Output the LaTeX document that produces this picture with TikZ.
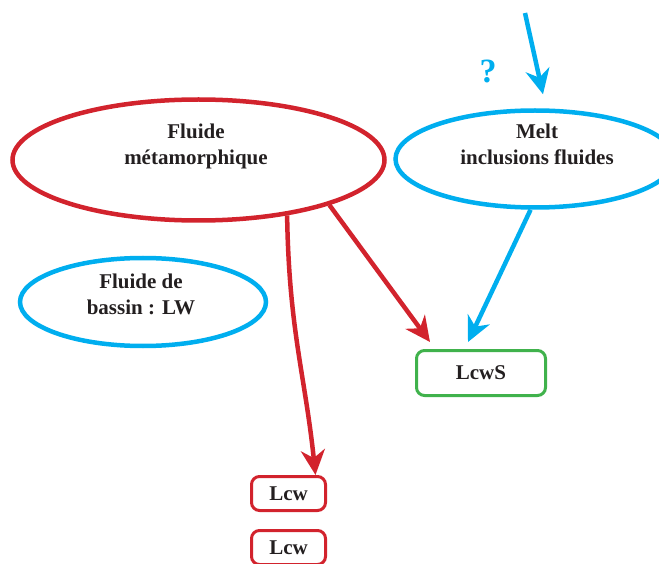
\documentclass[tikz,border=0pt]{standalone}
\usepackage{fontspec}
\setmainfont{Liberation Serif}
\usetikzlibrary{arrows.meta,shapes.geometric}
\definecolor{cred}{RGB}{210,35,45}
\definecolor{cblue}{RGB}{0,174,239}
\definecolor{cgreen}{RGB}{64,178,76}
\definecolor{ctext}{RGB}{35,31,32}
\begin{document}
\begin{tikzpicture}[x=1pt,y=-1pt,
  ell/.style={ellipse,draw,line width=4.5pt,inner sep=0pt},
  box/.style={rectangle,draw,rounded corners=8pt,line width=3pt,inner sep=0pt},
  txt/.style={font=\fontsize{21}{26}\selectfont\bfseries,text=ctext,align=center,inner sep=0pt},
  arr/.style={line width=4.5pt,-{Stealth[length=25pt,width=24pt,inset=8pt]}}]
\useasboundingbox (0,0) rectangle (659,564);
% ellipses
\node[ell,draw=cred,minimum width=372pt,minimum height=121pt] (meta) at (198.5,160) {};
\node[ell,draw=cblue,minimum width=279pt,minimum height=97pt] (melt) at (535,159) {};
\node[ell,draw=cblue,minimum width=246pt,minimum height=88pt] (bassin) at (143,302) {};
\node[txt,anchor=base] (metatxt) at (196,165) {Fluide\\métamorphique};
\node[txt,anchor=base] (melttxt) at (537,165) {Melt\\inclusions fluides};
\node[txt,anchor=base] (bassintxt) at (141,315) {Fluide de\\bassin : LW};
% boxes
\node[box,draw=cgreen,minimum width=129pt,minimum height=45pt,txt] (lcws) at (481,373) {LcwS};
\node[box,draw=cred,minimum width=74pt,minimum height=34pt,txt] (lcw1) at (288.5,493.5) {Lcw};
\node[box,draw=cred,minimum width=74pt,minimum height=34pt,txt] (lcw2) at (288.5,547.5) {Lcw};
% question mark
\node[font=\fontsize{34}{38}\selectfont\bfseries,text=cblue,inner sep=0pt] (q) at (488,71) {?};
% arrows
\coordinate (topstart) at (525,13);
\draw[arr,cblue] (topstart) -- ([xshift=8pt,yshift=14pt]melt.north);
\draw[arr,cblue] (melt.-95) -- ([xshift=-13pt,yshift=7pt]lcws.north);
\draw[arr,cred] (meta.-19) -- ([xshift=15pt,yshift=7pt]lcws.north west);
\draw[arr,cred] (meta.-32) .. controls (289,330) and (305,375) .. ([xshift=27pt]lcw1.north);
\end{tikzpicture}
\end{document}
